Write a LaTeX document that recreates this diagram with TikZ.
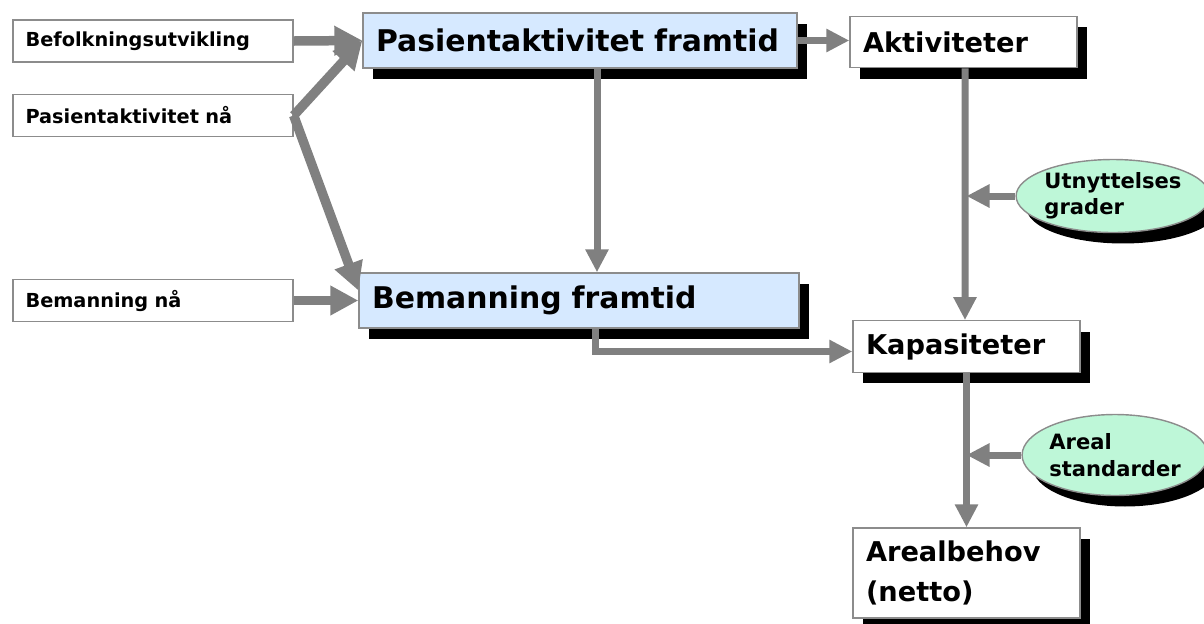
\documentclass[tikz,border=0pt]{standalone}
\usepackage{fontspec}
\setmainfont{DejaVu Sans}
\usetikzlibrary{arrows.meta,shapes.geometric,shadows}
\definecolor{pilgraa}{RGB}{128,128,128}
\definecolor{kantgraa}{RGB}{140,140,140}
\definecolor{lysblaa}{RGB}{214,233,255}
\definecolor{lysgroenn}{RGB}{190,247,216}
\tikzset{
  skygge/.style={drop shadow={shadow xshift=0.2cm, shadow yshift=-0.22cm, fill=black, opacity=1}},
  innboks/.style={draw=kantgraa, thick, fill=white, minimum height=0.84cm,
    text width=5.1cm, inner xsep=0.25cm, align=left,
    font=\bfseries\fontsize{11}{12}\selectfont},
  hovedboks/.style={draw=kantgraa, thick, fill=lysblaa, minimum height=1.1cm,
    inner xsep=0.26cm, align=left, skygge,
    font=\bfseries\fontsize{17}{20}\selectfont},
  resboks/.style={draw=kantgraa, thick, fill=white, minimum height=1.03cm,
    text width=4.02cm, inner xsep=0.26cm, align=left, skygge,
    font=\bfseries\fontsize{15.5}{22.5}\selectfont},
  faktor/.style={ellipse, draw=kantgraa, thick, fill=lysgroenn, inner sep=0pt,
    align=left, skygge, font=\bfseries\fontsize{12}{15}\selectfont},
  tykkpil/.style={draw=pilgraa, line width=0.19cm, -{Triangle[length=0.56cm,width=0.56cm]}},
  pil/.style={draw=pilgraa, line width=0.14cm, -{Triangle[length=0.46cm,width=0.44cm]}}
}
\begin{document}
\begin{tikzpicture}[x=0.02cm, y=-0.02cm]
	\useasboundingbox (0,0) rectangle (1204,623);
	% Grunnlag til venstre
	\foreach \navn/\y/\tekst in {befolk/41/Befolkningsutvikling,
		pasnaa/115.5/Pasientaktivitet nå, bemnaa/300.5/Bemanning nå}
		\node[innboks] (\navn) at (153,\y) {\tekst};
	% Framskrivinger
	\node[hovedboks, text width=8.16cm] (pasfram) at (580,40.5) {Pasientaktivitet framtid};
	\node[hovedboks, text width=8.28cm] (bemfram) at (579,300.5) {Bemanning framtid};
	% Resultater
	\node[resboks] (aktiv) at (963.5,42) {Aktiviteter};
	\node[resboks] (kapas) at (966.5,346.5) {Kapasiteter};
	\node[resboks, minimum height=1.8cm] (areal) at (966.5,573) {Arealbehov\\(netto)};
	% Faktorer
	\node[faktor, minimum width=3.5cm, minimum height=1.46cm] (utnytt) at (1113,196)
		{Utnyttelses\\grader};
	\node[faktor, minimum width=3.48cm, minimum height=1.62cm] (arstd) at (1115,455)
		{Areal\\standarder};
	% Piler
	\draw[tykkpil] (befolk.east) -- (pasfram.west);
	\draw[tykkpil] (pasnaa.east) -- (pasfram.west);
	\draw[tykkpil] (pasnaa.east) -- ([yshift=0.2cm]bemfram.west);
	\draw[tykkpil] (bemnaa.east) -- (bemfram.west);
	\draw[pil] ([xshift=0.34cm]pasfram.south) -- ([xshift=0.34cm]pasfram.south |- bemfram.north);
	\draw[pil] (pasfram.east) -- (pasfram.east -| aktiv.west);
	\draw[pil] ([xshift=0.32cm]bemfram.south) |- ([yshift=-0.1cm]kapas.west);
	\draw[pil] ([xshift=0.03cm]aktiv.south) -- ([xshift=-0.03cm]kapas.north);
	\draw[pil] (kapas.south) -- (areal.north);
	\draw[pil] (utnytt.west) -- (utnytt.west -| kapas.north);
	\draw[pil] (arstd.west) -- (arstd.west -| kapas.south);
\end{tikzpicture}
\end{document}
